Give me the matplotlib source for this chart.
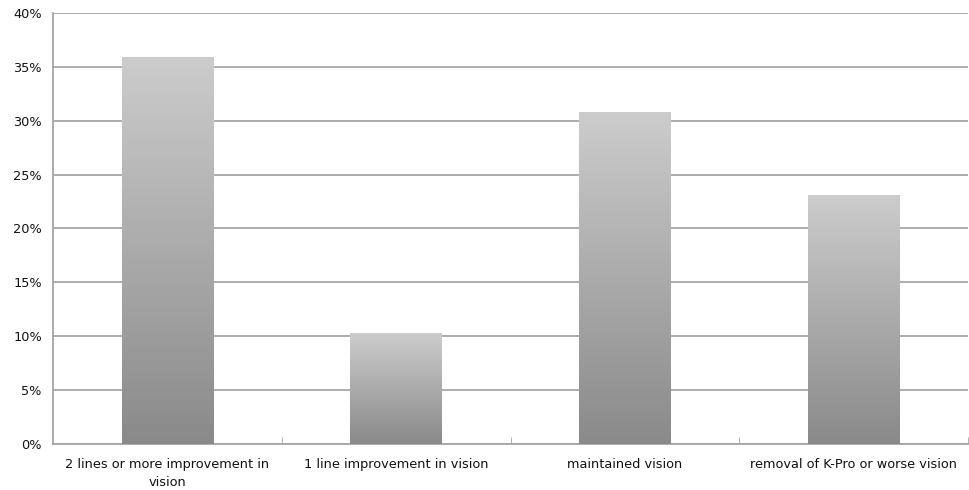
import numpy as np
import matplotlib.pyplot as plt
from matplotlib.ticker import FuncFormatter

categories = ['2 lines or more improvement in\nvision', '1 line improvement in vision',
              'maintained vision', 'removal of K-Pro or worse vision']
values = [35.9, 10.3, 30.8, 23.1]

fig = plt.figure(figsize=(9.7, 4.9), dpi=100)
ax = fig.add_axes([0.0546, 0.094, 0.9434, 0.8795])

x = np.arange(len(categories))
bars = ax.bar(x, values, width=0.4, color='none', edgecolor='none', zorder=3)

# vertical grey gradient inside each bar: light at top, darker at bottom
top_grey, bottom_grey = 0.80, 0.54
for b in bars:
    x0, y0 = b.get_x(), b.get_y()
    w, h = b.get_width(), b.get_height()
    g = np.linspace(top_grey, bottom_grey, 256).reshape(-1, 1, 1)
    img = np.repeat(g, 3, axis=2)
    im = ax.imshow(img, origin='upper', extent=[x0, x0 + w, y0, y0 + h],
                   aspect='auto', zorder=3, interpolation='bilinear')
    im.set_clip_path(b)

ax.set_xlim(-0.5, len(categories) - 0.5)
ax.set_ylim(0, 40)
ax.set_yticks(np.arange(0, 41, 5))
ax.yaxis.set_major_formatter(FuncFormatter(lambda v, p: f'{int(v)}%'))
ax.yaxis.grid(True, color='#a6a6a6', linewidth=1.3, zorder=0)
ax.set_axisbelow(True)

ax.set_xticks(x)
ax.set_xticklabels(categories, fontsize=9.3, color='#111111', linespacing=1.5)
ax.set_xticks(np.arange(0.5, len(categories), 1), minor=True)
ax.tick_params(axis='x', which='major', length=0, pad=10)
ax.tick_params(axis='x', which='minor', direction='in', length=5, color='#a6a6a6')
ax.tick_params(axis='y', length=0, labelsize=9.3, labelcolor='#111111', pad=8)

for s in ['top', 'right']:
    ax.spines[s].set_visible(False)
for s in ['left', 'bottom']:
    ax.spines[s].set_color('#a6a6a6')
    ax.spines[s].set_linewidth(1.3)

fig.savefig('out.png', dpi=100)
